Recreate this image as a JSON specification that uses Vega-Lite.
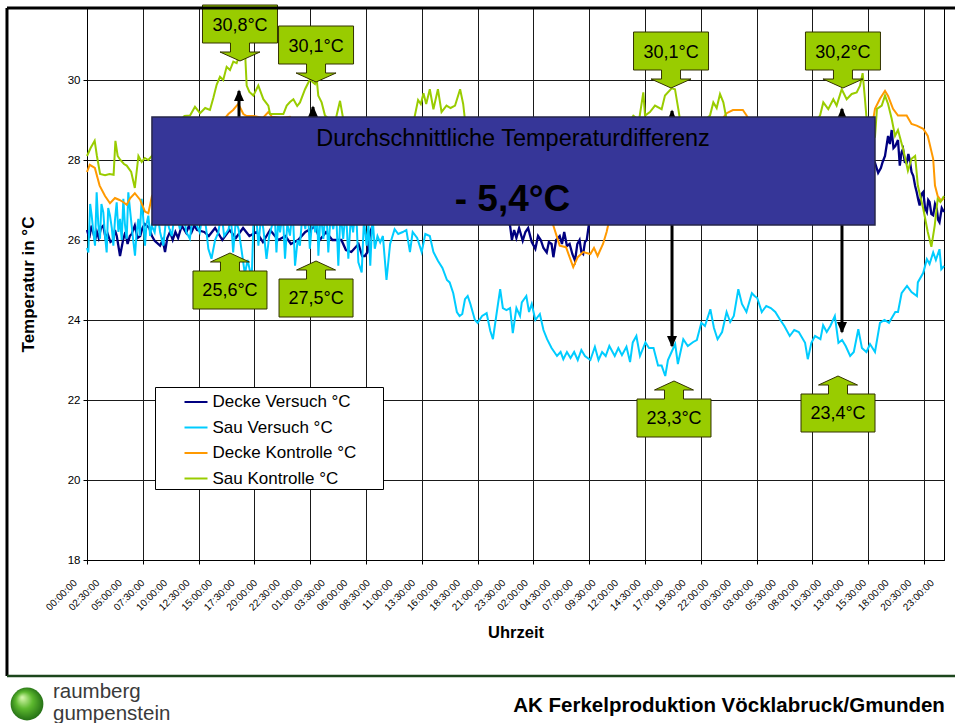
{
"$schema": "https://vega.github.io/schema/vega-lite/v6.json",
"autosize": {"type": "none"},
"padding": {"left": 87, "top": 8, "right": 11, "bottom": 163},
"width": 857,
"height": 552,
"background": "white",
"config": {"font": "Liberation Sans", "view": {"stroke": "black", "strokeWidth": 1}},
"datasets": {
"dv": [{"t":0,"v":26.25},{"t":0.25,"v":26.05},{"t":0.5,"v":26.36},{"t":0.9,"v":26.0},{"t":1.1,"v":26.2},{"t":1.3,"v":26.05},{"t":1.55,"v":26.3},{"t":1.8,"v":26.36},{"t":2.05,"v":26.05},{"t":2.3,"v":26.15},{"t":2.6,"v":25.95},{"t":2.9,"v":26.0},{"t":3.1,"v":26.25},{"t":3.3,"v":26.1},{"t":3.66,"v":25.6},{"t":4.0,"v":26.0},{"t":4.25,"v":26.2},{"t":4.5,"v":25.9},{"t":4.75,"v":26.1},{"t":4.95,"v":26.15},{"t":5.3,"v":26.36},{"t":5.6,"v":26.05},{"t":5.9,"v":26.1},{"t":6.15,"v":26.3},{"t":6.4,"v":26.4},{"t":6.9,"v":26.3},{"t":7.2,"v":26.1},{"t":7.5,"v":25.98},{"t":8.1,"v":25.86},{"t":8.4,"v":26.0},{"t":8.65,"v":25.7},{"t":8.9,"v":26.05},{"t":9.2,"v":26.2},{"t":9.5,"v":26.0},{"t":9.8,"v":26.2},{"t":10.1,"v":26.05},{"t":10.5,"v":26.36},{"t":11.0,"v":26.18},{"t":11.3,"v":26.36},{"t":11.6,"v":26.2},{"t":11.9,"v":26.36},{"t":12.2,"v":26.25},{"t":13.0,"v":26.2},{"t":13.5,"v":26.1},{"t":14.2,"v":26.3},{"t":15.0,"v":26.0},{"t":15.8,"v":26.25},{"t":16.5,"v":26.05},{"t":17.3,"v":26.3},{"t":18.0,"v":26.1},{"t":18.8,"v":26.2},{"t":19.5,"v":25.95},{"t":20.3,"v":26.25},{"t":21.2,"v":26.0},{"t":22.0,"v":26.1},{"t":22.6,"v":25.9},{"t":23.4,"v":26.0},{"t":24.2,"v":26.2},{"t":25.0,"v":26.3},{"t":25.3,"v":26.36},{"t":25.8,"v":26.0},{"t":26.5,"v":26.2},{"t":27.2,"v":26.0},{"t":28.2,"v":26.0},{"t":28.7,"v":25.75},{"t":29.3,"v":25.7},{"t":29.7,"v":25.8},{"t":30.1,"v":25.9},{"t":30.5,"v":25.6},{"t":30.8,"v":25.6},{"t":31.1,"v":25.7},{"t":31.4,"v":26.2},{"t":32.2,"v":26.7},{"t":35.0,"v":27.2},{"t":40.0,"v":27.2},{"t":45.0,"v":26.8},{"t":46.5,"v":26.5},{"t":46.9,"v":26.36},{"t":47.1,"v":26.0},{"t":47.35,"v":26.25},{"t":47.6,"v":26.05},{"t":47.9,"v":26.3},{"t":48.3,"v":25.98},{"t":48.6,"v":26.2},{"t":48.9,"v":26.3},{"t":49.3,"v":25.95},{"t":49.7,"v":25.78},{"t":50.0,"v":26.1},{"t":50.3,"v":26.0},{"t":50.6,"v":25.8},{"t":50.96,"v":25.69},{"t":51.2,"v":25.95},{"t":51.5,"v":25.9},{"t":51.7,"v":25.57},{"t":52.0,"v":26.0},{"t":52.4,"v":26.1},{"t":52.65,"v":25.9},{"t":52.9,"v":26.2},{"t":53.2,"v":25.85},{"t":53.5,"v":25.9},{"t":53.8,"v":25.65},{"t":54.1,"v":25.48},{"t":54.35,"v":25.9},{"t":54.6,"v":26.0},{"t":54.8,"v":25.7},{"t":55.0,"v":25.65},{"t":55.2,"v":25.95},{"t":55.4,"v":26.0},{"t":55.7,"v":26.5},{"t":60.0,"v":27.3},{"t":70.0,"v":27.6},{"t":80.0,"v":27.5},{"t":86.0,"v":27.8},{"t":87.35,"v":27.93},{"t":87.7,"v":27.68},{"t":88.0,"v":27.8},{"t":88.2,"v":27.95},{"t":88.46,"v":28.1},{"t":88.8,"v":28.6},{"t":89.0,"v":28.4},{"t":89.2,"v":28.75},{"t":89.4,"v":28.3},{"t":89.6,"v":28.35},{"t":89.9,"v":28.5},{"t":90.1,"v":27.86},{"t":90.3,"v":28.2},{"t":90.46,"v":28.28},{"t":90.65,"v":27.95},{"t":90.86,"v":27.93},{"t":91.05,"v":28.15},{"t":91.2,"v":28.0},{"t":91.4,"v":27.7},{"t":91.6,"v":27.6},{"t":91.8,"v":27.35},{"t":91.97,"v":27.2},{"t":92.15,"v":27.0},{"t":92.3,"v":26.86},{"t":92.5,"v":27.15},{"t":92.7,"v":27.2},{"t":92.9,"v":26.8},{"t":93.1,"v":26.7},{"t":93.25,"v":27.0},{"t":93.4,"v":26.95},{"t":93.6,"v":26.65},{"t":93.8,"v":26.62},{"t":94.0,"v":26.9},{"t":94.2,"v":26.78},{"t":94.35,"v":26.5},{"t":94.5,"v":26.44},{"t":94.75,"v":26.8},{"t":95.0,"v":26.7}],
"sv": [{"t":0,"v":25.8},{"t":0.15,"v":25.69},{"t":0.35,"v":26.9},{"t":0.52,"v":26.61},{"t":0.7,"v":26.2},{"t":0.89,"v":25.86},{"t":1.07,"v":27.19},{"t":1.25,"v":26.4},{"t":1.44,"v":26.03},{"t":1.6,"v":26.9},{"t":1.81,"v":26.69},{"t":2.0,"v":26.1},{"t":2.18,"v":25.69},{"t":2.35,"v":26.8},{"t":2.55,"v":26.61},{"t":2.75,"v":26.3},{"t":2.92,"v":25.86},{"t":3.1,"v":26.5},{"t":3.29,"v":26.94},{"t":3.48,"v":26.2},{"t":3.66,"v":26.53},{"t":3.85,"v":26.0},{"t":4.03,"v":27.03},{"t":4.2,"v":26.4},{"t":4.4,"v":26.03},{"t":4.58,"v":27.19},{"t":4.75,"v":26.8},{"t":4.95,"v":26.36},{"t":5.12,"v":26.0},{"t":5.32,"v":25.61},{"t":5.5,"v":26.2},{"t":5.69,"v":26.53},{"t":5.85,"v":26.1},{"t":6.06,"v":27.03},{"t":6.25,"v":26.5},{"t":6.43,"v":25.86},{"t":6.6,"v":26.4},{"t":6.8,"v":26.61},{"t":7.0,"v":26.1},{"t":7.17,"v":26.36},{"t":7.5,"v":26.19},{"t":7.8,"v":26.7},{"t":8.1,"v":26.2},{"t":8.46,"v":25.86},{"t":8.8,"v":26.6},{"t":9.1,"v":26.3},{"t":9.4,"v":26.1},{"t":9.8,"v":26.8},{"t":10.3,"v":26.27},{"t":10.7,"v":26.7},{"t":11.0,"v":26.2},{"t":11.4,"v":26.03},{"t":11.8,"v":26.7},{"t":12.1,"v":26.4},{"t":12.5,"v":26.19},{"t":12.9,"v":26.8},{"t":13.2,"v":26.3},{"t":13.45,"v":25.78},{"t":13.8,"v":25.53},{"t":14.2,"v":26.0},{"t":14.56,"v":26.19},{"t":14.9,"v":26.7},{"t":15.2,"v":26.1},{"t":15.7,"v":26.27},{"t":15.95,"v":26.6},{"t":16.2,"v":25.69},{"t":16.5,"v":26.5},{"t":16.8,"v":26.27},{"t":17.1,"v":25.8},{"t":17.5,"v":25.15},{"t":17.8,"v":25.5},{"t":18.26,"v":25.03},{"t":18.44,"v":26.36},{"t":18.7,"v":26.8},{"t":19.0,"v":25.86},{"t":19.3,"v":26.6},{"t":19.55,"v":26.27},{"t":19.9,"v":25.53},{"t":20.2,"v":26.1},{"t":20.5,"v":26.36},{"t":20.75,"v":26.9},{"t":21.0,"v":25.69},{"t":21.2,"v":26.5},{"t":21.4,"v":26.19},{"t":21.7,"v":26.7},{"t":21.95,"v":25.53},{"t":22.2,"v":26.4},{"t":22.5,"v":26.11},{"t":22.8,"v":26.8},{"t":23.06,"v":25.36},{"t":23.35,"v":26.0},{"t":23.6,"v":25.86},{"t":23.9,"v":26.7},{"t":24.2,"v":26.27},{"t":24.45,"v":26.9},{"t":24.7,"v":25.78},{"t":25.0,"v":26.6},{"t":25.3,"v":26.19},{"t":25.5,"v":26.8},{"t":25.65,"v":25.61},{"t":25.9,"v":26.7},{"t":26.2,"v":26.03},{"t":26.5,"v":26.9},{"t":26.75,"v":25.69},{"t":27.0,"v":26.6},{"t":27.3,"v":26.27},{"t":27.6,"v":26.8},{"t":27.86,"v":25.36},{"t":28.1,"v":26.7},{"t":28.4,"v":26.03},{"t":28.7,"v":26.8},{"t":28.97,"v":25.53},{"t":29.25,"v":26.6},{"t":29.5,"v":26.19},{"t":29.8,"v":26.9},{"t":30.08,"v":25.44},{"t":30.45,"v":25.19},{"t":30.7,"v":26.5},{"t":31.0,"v":25.86},{"t":31.2,"v":26.4},{"t":31.4,"v":25.36},{"t":31.65,"v":26.6},{"t":31.9,"v":25.78},{"t":32.2,"v":26.1},{"t":32.5,"v":25.94},{"t":32.8,"v":26.1},{"t":33.2,"v":25.0},{"t":33.6,"v":25.9},{"t":34.1,"v":26.27},{"t":34.5,"v":26.15},{"t":35.0,"v":26.2},{"t":35.4,"v":26.25},{"t":35.8,"v":25.7},{"t":36.1,"v":26.2},{"t":36.6,"v":26.05},{"t":37.1,"v":25.7},{"t":37.5,"v":26.15},{"t":38.0,"v":26.1},{"t":38.4,"v":25.7},{"t":38.9,"v":25.48},{"t":39.4,"v":25.3},{"t":39.9,"v":25.0},{"t":40.2,"v":24.94},{"t":40.6,"v":24.67},{"t":41.0,"v":24.2},{"t":41.3,"v":24.1},{"t":41.6,"v":24.15},{"t":41.9,"v":24.52},{"t":42.2,"v":24.6},{"t":42.5,"v":24.4},{"t":43.0,"v":24.0},{"t":43.3,"v":23.93},{"t":43.8,"v":24.1},{"t":44.3,"v":24.17},{"t":44.7,"v":23.73},{"t":45.0,"v":23.52},{"t":45.3,"v":24.0},{"t":45.8,"v":24.77},{"t":46.1,"v":24.3},{"t":46.5,"v":24.25},{"t":46.9,"v":24.3},{"t":47.2,"v":23.67},{"t":47.6,"v":24.3},{"t":48.0,"v":24.1},{"t":48.2,"v":24.44},{"t":48.7,"v":24.6},{"t":49.0,"v":24.2},{"t":49.3,"v":24.4},{"t":49.7,"v":24.0},{"t":50.2,"v":24.15},{"t":50.6,"v":23.75},{"t":51.0,"v":23.52},{"t":51.5,"v":23.3},{"t":52.1,"v":23.1},{"t":52.5,"v":23.2},{"t":52.8,"v":23.02},{"t":53.2,"v":23.2},{"t":53.6,"v":23.05},{"t":54.0,"v":23.2},{"t":54.4,"v":23.0},{"t":54.8,"v":23.25},{"t":55.2,"v":23.1},{"t":55.8,"v":23.0},{"t":56.3,"v":23.33},{"t":56.7,"v":23.0},{"t":57.1,"v":23.2},{"t":57.5,"v":23.1},{"t":57.9,"v":23.35},{"t":58.5,"v":23.1},{"t":58.9,"v":23.3},{"t":59.3,"v":23.12},{"t":59.8,"v":23.33},{"t":60.2,"v":22.95},{"t":60.5,"v":23.44},{"t":60.9,"v":23.6},{"t":61.3,"v":23.1},{"t":61.9,"v":23.44},{"t":62.3,"v":23.3},{"t":62.8,"v":23.3},{"t":63.3,"v":22.86},{"t":63.7,"v":22.86},{"t":64.1,"v":22.6},{"t":64.4,"v":23.0},{"t":64.8,"v":23.2},{"t":65.2,"v":23.4},{"t":65.5,"v":22.9},{"t":66.1,"v":23.52},{"t":66.6,"v":23.35},{"t":67.2,"v":23.45},{"t":67.6,"v":23.5},{"t":68.1,"v":23.93},{"t":68.5,"v":23.85},{"t":69.1,"v":24.27},{"t":69.5,"v":23.8},{"t":69.9,"v":23.52},{"t":70.4,"v":23.7},{"t":70.9,"v":24.2},{"t":71.3,"v":23.95},{"t":71.7,"v":24.1},{"t":72.2,"v":24.77},{"t":72.6,"v":24.4},{"t":73.1,"v":24.2},{"t":73.7,"v":24.67},{"t":74.0,"v":24.6},{"t":74.3,"v":24.55},{"t":74.8,"v":24.2},{"t":75.3,"v":24.35},{"t":75.8,"v":24.3},{"t":76.3,"v":24.2},{"t":76.8,"v":24.02},{"t":77.3,"v":23.85},{"t":77.9,"v":23.6},{"t":78.4,"v":23.75},{"t":78.9,"v":23.7},{"t":79.6,"v":23.43},{"t":79.9,"v":23.02},{"t":80.3,"v":23.43},{"t":80.7,"v":23.6},{"t":81.3,"v":23.52},{"t":81.6,"v":23.87},{"t":82.0,"v":23.7},{"t":82.4,"v":23.85},{"t":82.9,"v":24.1},{"t":83.3,"v":23.43},{"t":83.7,"v":23.5},{"t":84.1,"v":23.35},{"t":84.6,"v":23.1},{"t":85.0,"v":23.2},{"t":85.5,"v":23.77},{"t":85.9,"v":23.3},{"t":86.4,"v":23.2},{"t":86.8,"v":23.4},{"t":87.35,"v":23.2},{"t":87.9,"v":23.93},{"t":88.4,"v":24.0},{"t":88.9,"v":23.93},{"t":89.6,"v":24.2},{"t":89.9,"v":24.2},{"t":90.3,"v":24.67},{"t":90.9,"v":24.85},{"t":91.4,"v":24.7},{"t":92.0,"v":24.6},{"t":92.1,"v":24.94},{"t":92.7,"v":25.18},{"t":93.1,"v":25.52},{"t":93.4,"v":25.4},{"t":93.8,"v":25.69},{"t":94.1,"v":25.5},{"t":94.5,"v":25.77},{"t":94.7,"v":25.27},{"t":95.0,"v":25.35}],
"dk": [{"t":0,"v":27.7},{"t":0.3,"v":27.88},{"t":0.87,"v":27.8},{"t":1.4,"v":27.36},{"t":2.0,"v":27.1},{"t":2.55,"v":26.92},{"t":3.1,"v":27.05},{"t":3.6,"v":27.0},{"t":4.0,"v":26.95},{"t":4.4,"v":26.88},{"t":4.8,"v":27.05},{"t":5.3,"v":27.17},{"t":5.9,"v":27.0},{"t":6.43,"v":26.71},{"t":6.8,"v":26.67},{"t":7.2,"v":27.1},{"t":10.0,"v":27.8},{"t":13.0,"v":28.6},{"t":15.0,"v":28.95},{"t":15.3,"v":29.05},{"t":15.67,"v":29.15},{"t":16.2,"v":29.25},{"t":16.6,"v":29.36},{"t":16.77,"v":29.4},{"t":17.0,"v":29.3},{"t":17.33,"v":29.15},{"t":17.7,"v":29.1},{"t":18.5,"v":29.1},{"t":19.5,"v":29.05},{"t":20.1,"v":29.2},{"t":20.5,"v":29.08},{"t":21.5,"v":29.05},{"t":22.5,"v":29.08},{"t":23.2,"v":28.9},{"t":30.0,"v":28.7},{"t":36.0,"v":28.4},{"t":42.0,"v":27.9},{"t":48.0,"v":27.0},{"t":51.0,"v":26.6},{"t":51.7,"v":26.36},{"t":52.4,"v":25.86},{"t":53.1,"v":25.82},{"t":53.9,"v":25.32},{"t":54.4,"v":25.57},{"t":55.0,"v":25.7},{"t":55.8,"v":25.65},{"t":56.2,"v":25.8},{"t":56.6,"v":25.6},{"t":57.2,"v":25.9},{"t":57.6,"v":26.2},{"t":58.0,"v":26.6},{"t":62.0,"v":28.0},{"t":66.0,"v":28.6},{"t":69.0,"v":28.9},{"t":70.5,"v":29.05},{"t":70.91,"v":29.17},{"t":71.6,"v":29.25},{"t":72.7,"v":29.25},{"t":73.1,"v":29.12},{"t":73.5,"v":28.95},{"t":78.0,"v":28.5},{"t":83.0,"v":28.2},{"t":87.0,"v":28.8},{"t":87.35,"v":29.28},{"t":87.9,"v":29.53},{"t":88.46,"v":29.73},{"t":88.8,"v":29.6},{"t":89.35,"v":29.28},{"t":89.9,"v":29.11},{"t":90.86,"v":29.11},{"t":91.4,"v":28.9},{"t":91.97,"v":28.86},{"t":92.7,"v":28.78},{"t":93.2,"v":28.6},{"t":93.8,"v":28.03},{"t":94.0,"v":27.36},{"t":94.3,"v":27.1},{"t":94.7,"v":26.98},{"t":95.0,"v":27.05}],
"sk": [{"t":0,"v":28.1},{"t":0.4,"v":28.3},{"t":0.85,"v":28.48},{"t":1.1,"v":28.1},{"t":1.45,"v":27.65},{"t":2.0,"v":27.62},{"t":2.5,"v":27.65},{"t":2.95,"v":27.63},{"t":3.15,"v":28.48},{"t":3.4,"v":28.1},{"t":3.7,"v":28.0},{"t":4.1,"v":27.9},{"t":4.4,"v":27.86},{"t":4.9,"v":27.7},{"t":5.3,"v":27.3},{"t":5.7,"v":28.1},{"t":6.06,"v":27.95},{"t":6.4,"v":28.05},{"t":6.8,"v":28.0},{"t":7.2,"v":28.1},{"t":8.5,"v":28.6},{"t":10.0,"v":28.9},{"t":10.8,"v":29.1},{"t":11.42,"v":29.11},{"t":11.97,"v":29.33},{"t":12.53,"v":29.17},{"t":13.1,"v":29.3},{"t":13.63,"v":29.25},{"t":14.0,"v":29.55},{"t":14.37,"v":29.88},{"t":14.74,"v":30.08},{"t":15.1,"v":30.0},{"t":15.48,"v":30.33},{"t":15.85,"v":30.25},{"t":16.22,"v":30.46},{"t":16.59,"v":30.42},{"t":16.96,"v":30.67},{"t":17.2,"v":30.55},{"t":17.51,"v":30.75},{"t":17.7,"v":29.86},{"t":18.0,"v":29.7},{"t":18.44,"v":29.61},{"t":18.99,"v":29.86},{"t":19.55,"v":29.52},{"t":20.1,"v":29.36},{"t":20.29,"v":29.15},{"t":21.77,"v":29.15},{"t":22.14,"v":29.36},{"t":22.5,"v":29.45},{"t":22.88,"v":29.52},{"t":23.3,"v":29.35},{"t":23.61,"v":29.44},{"t":24.17,"v":29.77},{"t":24.72,"v":30.02},{"t":25.0,"v":29.95},{"t":25.27,"v":29.9},{"t":25.45,"v":30.05},{"t":25.64,"v":29.61},{"t":26.01,"v":29.44},{"t":26.38,"v":29.11},{"t":26.94,"v":29.0},{"t":27.5,"v":28.95},{"t":28.05,"v":29.48},{"t":28.42,"v":29.0},{"t":29.5,"v":29.0},{"t":31.0,"v":28.95},{"t":33.0,"v":29.0},{"t":35.0,"v":28.98},{"t":36.2,"v":28.95},{"t":36.7,"v":29.5},{"t":37.0,"v":29.4},{"t":37.3,"v":29.67},{"t":37.6,"v":29.4},{"t":38.0,"v":29.77},{"t":38.4,"v":29.27},{"t":38.9,"v":29.77},{"t":39.3,"v":29.2},{"t":39.85,"v":29.36},{"t":40.3,"v":29.3},{"t":40.8,"v":29.36},{"t":41.36,"v":29.77},{"t":41.7,"v":29.4},{"t":41.9,"v":29.0},{"t":45.0,"v":28.6},{"t":50.0,"v":28.3},{"t":55.0,"v":28.4},{"t":60.0,"v":28.9},{"t":60.56,"v":29.11},{"t":61.2,"v":29.0},{"t":61.67,"v":29.69},{"t":61.86,"v":29.11},{"t":62.4,"v":29.2},{"t":62.96,"v":29.36},{"t":63.7,"v":29.27},{"t":64.07,"v":29.61},{"t":64.81,"v":29.79},{"t":65.18,"v":29.77},{"t":65.55,"v":29.27},{"t":65.74,"v":29.0},{"t":67.5,"v":28.8},{"t":69.06,"v":29.11},{"t":69.43,"v":29.44},{"t":69.8,"v":29.3},{"t":70.17,"v":29.65},{"t":70.54,"v":29.44},{"t":70.91,"v":29.0},{"t":75.0,"v":28.5},{"t":78.0,"v":28.4},{"t":80.5,"v":28.9},{"t":81.26,"v":29.11},{"t":81.62,"v":29.44},{"t":82.17,"v":29.27},{"t":82.73,"v":29.52},{"t":83.1,"v":29.36},{"t":83.66,"v":29.77},{"t":84.21,"v":29.52},{"t":84.77,"v":29.65},{"t":85.32,"v":29.69},{"t":85.69,"v":29.86},{"t":85.98,"v":30.17},{"t":86.24,"v":29.52},{"t":86.43,"v":29.0},{"t":87.0,"v":28.5},{"t":87.35,"v":28.58},{"t":87.57,"v":29.28},{"t":88.1,"v":29.36},{"t":88.46,"v":29.61},{"t":88.8,"v":29.4},{"t":89.2,"v":29.03},{"t":89.57,"v":28.6},{"t":89.9,"v":28.75},{"t":90.46,"v":28.28},{"t":91.0,"v":27.73},{"t":91.4,"v":28.03},{"t":91.8,"v":28.1},{"t":92.1,"v":27.36},{"t":92.7,"v":26.78},{"t":93.2,"v":26.2},{"t":93.6,"v":25.83},{"t":93.97,"v":26.36},{"t":94.3,"v":27.03},{"t":94.6,"v":26.95},{"t":95.0,"v":27.1}],
"arrows": [{"t":16.85,"top":29.725,"bottom":26.8},{"t":25.05,"top":29.325,"bottom":26.8},{"t":64.85,"top":29.225,"bottom":23.35},{"t":83.69,"top":29.275,"bottom":23.7}],
"callouts": [{"t":16.96,"ty":30.475,"label":"30,8°C","dir":"down"},{"t":25.39,"ty":29.95,"label":"30,1°C","dir":"down"},{"t":64.74,"ty":29.8,"label":"30,1°C","dir":"down"},{"t":83.8,"ty":29.8,"label":"30,2°C","dir":"down"},{"t":15.85,"ty":25.675,"label":"25,6°C","dir":"up"},{"t":25.39,"ty":25.475,"label":"27,5°C","dir":"up"},{"t":65.07,"ty":22.475,"label":"23,3°C","dir":"up"},{"t":83.25,"ty":22.6,"label":"23,4°C","dir":"up"}]
},
"resolve": {"axis": {"x": "independent"}},
"layer": [
{"data": {"name": "dv"}, "mark": {"type": "line", "strokeWidth": 2.3},
 "encoding": {
  "x": {"field": "t", "type": "quantitative", "scale": {"domain": [0, 95], "nice": false, "zero": false},
   "axis": {"orient": "bottom", "values": [0,2.5,5,7.5,10,12.5,15,17.5,20,22.5,25,27.5,30,32.5,35,37.5,40,42.5,45,47.5,50,52.5,55,57.5,60,62.5,65,67.5,70,72.5,75,77.5,80,82.5,85,87.5,90,92.5,95],
    "labelExpr": "(floor(datum.value % 24) < 10 ? '0' : '') + floor(datum.value % 24) + ':' + (datum.value % 1 > 0.25 ? '30' : '00') + ':00'",
    "labelAngle": -45, "labelAlign": "right", "labelBaseline": "middle", "labelFontSize": 10, "labelColor": "black",
    "labelOffset": -12, "labelPadding": 21, "labelOverlap": false, "labelBound": false, "labelFlush": false,
    "ticks": false, "tickSize": 0, "grid": false, "domain": false,
    "title": "Uhrzeit", "titleFontSize": 16.5, "titleFontWeight": "bold", "titleColor": "black", "titlePadding": 12}},
  "y": {"field": "v", "type": "quantitative", "scale": {"domain": [18, 31.8], "nice": false, "zero": false},
   "axis": {"values": [18,20,22,24,26,28,30], "grid": true, "gridColor": "#1a1a1a", "gridWidth": 1, "tickSize": 4, "tickColor": "black",
    "domainColor": "black", "labelFontSize": 11.5, "labelColor": "black", "labelPadding": 3,
    "title": "Temperatur in °C", "titleFontSize": 17, "titleFontWeight": "bold", "titleColor": "black", "titlePadding": 30}},
  "color": {"datum": "Decke Versuch °C", "type": "nominal",
   "scale": {"domain": ["Decke Versuch °C", "Sau Versuch °C", "Decke Kontrolle °C", "Sau Kontrolle °C"], "range": ["#000080", "#00CCFF", "#FF9900", "#99CC00"]},
   "legend": {"orient": "none", "legendX": 68, "legendY": 379, "title": null, "symbolType": "stroke", "symbolSize": 529, "symbolStrokeWidth": 2,
    "labelFontSize": 17, "labelColor": "black", "labelLimit": 400, "labelOffset": 4, "symbolOffset": 26, "padding": 2.5, "rowPadding": 4.5,
    "fillColor": "white", "strokeColor": "black", "labelExpr": "datum.label + '\u2800\u2800'"}}
 }},
{"data": {"name": "sv"}, "mark": {"type": "line", "strokeWidth": 2},
 "encoding": {
  "x": {"field": "t", "type": "quantitative",
   "axis": {"orient": "bottom", "values": [0,6.185,12.37,18.555,24.74,30.925,37.11,43.295,49.48,55.665,61.85,68.035,74.22,80.405,86.59,92.775],
    "labels": false, "ticks": true, "tickSize": 4, "tickColor": "black", "grid": true, "gridColor": "#1a1a1a", "gridWidth": 1,
    "domain": true, "domainColor": "black", "title": null}},
  "y": {"field": "v", "type": "quantitative"},
  "color": {"datum": "Sau Versuch °C", "type": "nominal"}
 }},
{"data": {"name": "dk"}, "mark": {"type": "line", "strokeWidth": 2},
 "encoding": {"x": {"field": "t", "type": "quantitative", "axis": null}, "y": {"field": "v", "type": "quantitative"}, "color": {"datum": "Decke Kontrolle °C", "type": "nominal"}}},
{"data": {"name": "sk"}, "mark": {"type": "line", "strokeWidth": 2},
 "encoding": {"x": {"field": "t", "type": "quantitative", "axis": null}, "y": {"field": "v", "type": "quantitative"}, "color": {"datum": "Sau Kontrolle °C", "type": "nominal"}}},
{"data": {"name": "arrows"}, "mark": {"type": "rule", "stroke": "black", "strokeWidth": 3},
 "encoding": {"x": {"field": "t", "type": "quantitative", "axis": null}, "y": {"field": "top", "type": "quantitative"}, "y2": {"field": "bottom"}}},
{"data": {"name": "arrows"}, "mark": {"type": "point", "shape": "M0,-1.5L5,10L-5,10Z", "size": 4, "filled": true, "fill": "black", "opacity": 1, "strokeWidth": 0},
 "encoding": {"x": {"field": "t", "type": "quantitative", "axis": null}, "y": {"field": "top", "type": "quantitative"}}},
{"data": {"name": "arrows"}, "mark": {"type": "point", "shape": "M0,1.5L5,-10L-5,-10Z", "size": 4, "filled": true, "fill": "black", "opacity": 1, "strokeWidth": 0},
 "encoding": {"x": {"field": "t", "type": "quantitative", "axis": null}, "y": {"field": "bottom", "type": "quantitative"}}},
{"data": {"values": [{}]}, "mark": {"type": "rect", "fill": "#363698", "stroke": "#26264a", "strokeWidth": 1.5},
 "encoding": {"x": {"datum": 7.2, "type": "quantitative", "axis": null}, "x2": {"datum": 87.35}, "y": {"datum": 29.075, "type": "quantitative"}, "y2": {"datum": 26.375}}},
{"data": {"values": [{}]}, "mark": {"type": "text", "text": "Durchschnittliche Temperaturdifferenz", "fontSize": 23.5, "fill": "black", "align": "center", "baseline": "alphabetic"},
 "encoding": {"x": {"datum": 47.22, "type": "quantitative", "axis": null}, "y": {"datum": 28.36, "type": "quantitative"}}},
{"data": {"values": [{}]}, "mark": {"type": "text", "text": "- 5,4°C", "fontSize": 37, "fontWeight": "bold", "fill": "black", "align": "center", "baseline": "alphabetic"},
 "encoding": {"x": {"datum": 47.17, "type": "quantitative", "axis": null}, "y": {"datum": 26.725, "type": "quantitative"}}},
{"data": {"name": "callouts"}, "transform": [{"filter": "datum.dir == 'down'"}],
 "mark": {"type": "point", "shape": "M-37.5,-56H37.5V-18H9.5V-9H20L0,0L-20,-9H-9.5V-18H-37.5Z", "size": 4, "filled": true, "fill": "#99CC00", "stroke": "#333300", "strokeWidth": 1, "opacity": 1},
 "encoding": {"x": {"field": "t", "type": "quantitative", "axis": null}, "y": {"field": "ty", "type": "quantitative"}}},
{"data": {"name": "callouts"}, "transform": [{"filter": "datum.dir == 'up'"}],
 "mark": {"type": "point", "shape": "M-37,56H37V18H9.5V9H19.5L0,0L-19.5,9H-9.5V18H-37Z", "size": 4, "filled": true, "fill": "#99CC00", "stroke": "#333300", "strokeWidth": 1, "opacity": 1},
 "encoding": {"x": {"field": "t", "type": "quantitative", "axis": null}, "y": {"field": "ty", "type": "quantitative"}}},
{"data": {"name": "callouts"}, "transform": [{"filter": "datum.dir == 'down'"}],
 "mark": {"type": "text", "fontSize": 18, "fill": "black", "align": "center", "baseline": "alphabetic", "dy": -30},
 "encoding": {"x": {"field": "t", "type": "quantitative", "axis": null}, "y": {"field": "ty", "type": "quantitative"}, "text": {"field": "label"}}},
{"data": {"name": "callouts"}, "transform": [{"filter": "datum.dir == 'up'"}],
 "mark": {"type": "text", "fontSize": 18, "fill": "black", "align": "center", "baseline": "alphabetic", "dy": 43},
 "encoding": {"x": {"field": "t", "type": "quantitative", "axis": null}, "y": {"field": "ty", "type": "quantitative"}, "text": {"field": "label"}}},
{"data": {"values": [{}]}, "mark": {"type": "rule", "stroke": "black", "strokeWidth": 3},
 "encoding": {"x": {"datum": -8.87, "type": "quantitative", "axis": null}, "x2": {"datum": 96.3}, "y": {"datum": 31.8, "type": "quantitative"}}},
{"data": {"values": [{}]}, "mark": {"type": "rule", "stroke": "black", "strokeWidth": 3},
 "encoding": {"x": {"datum": -8.87, "type": "quantitative", "axis": null}, "y": {"datum": 31.8, "type": "quantitative"}, "y2": {"datum": 15.1}}},
{"data": {"values": [{}]}, "mark": {"type": "rule", "stroke": "#1c461c", "strokeWidth": 2.5},
 "encoding": {"x": {"datum": -8.87, "type": "quantitative", "axis": null}, "x2": {"datum": 96.3}, "y": {"datum": 15.1, "type": "quantitative"}}},
{"data": {"values": [{}]}, "mark": {"type": "point", "shape": "circle", "size": 1075, "filled": true, "opacity": 1, "strokeWidth": 0,
  "fill": {"gradient": "radial", "x1": 0.35, "y1": 0.3, "r1": 0.02, "x2": 0.5, "y2": 0.5, "r2": 0.55,
   "stops": [{"offset": 0, "color": "#d2f5a8"}, {"offset": 0.45, "color": "#5cb82e"}, {"offset": 1, "color": "#1d6612"}]}},
 "encoding": {"x": {"datum": -6.65, "type": "quantitative", "axis": null}, "y": {"datum": 14.4, "type": "quantitative"}}},
{"data": {"values": [{}]}, "mark": {"type": "text", "text": "raumberg", "fontSize": 20.5, "fill": "#3a3a3a", "align": "left", "baseline": "alphabetic"},
 "encoding": {"x": {"datum": -3.77, "type": "quantitative", "axis": null}, "y": {"datum": 14.5625, "type": "quantitative"}}},
{"data": {"values": [{}]}, "mark": {"type": "text", "text": "gumpenstein", "fontSize": 20.5, "fill": "#3a3a3a", "align": "left", "baseline": "alphabetic"},
 "encoding": {"x": {"datum": -3.77, "type": "quantitative", "axis": null}, "y": {"datum": 14.0, "type": "quantitative"}}},
{"data": {"values": [{}]}, "mark": {"type": "text", "text": "AK Ferkelproduktion Vöcklabruck/Gmunden", "fontSize": 20.5, "fontWeight": "bold", "fill": "black", "align": "right", "baseline": "alphabetic"},
 "encoding": {"x": {"datum": 95.1, "type": "quantitative", "axis": null}, "y": {"datum": 14.2, "type": "quantitative"}}}
]
}
